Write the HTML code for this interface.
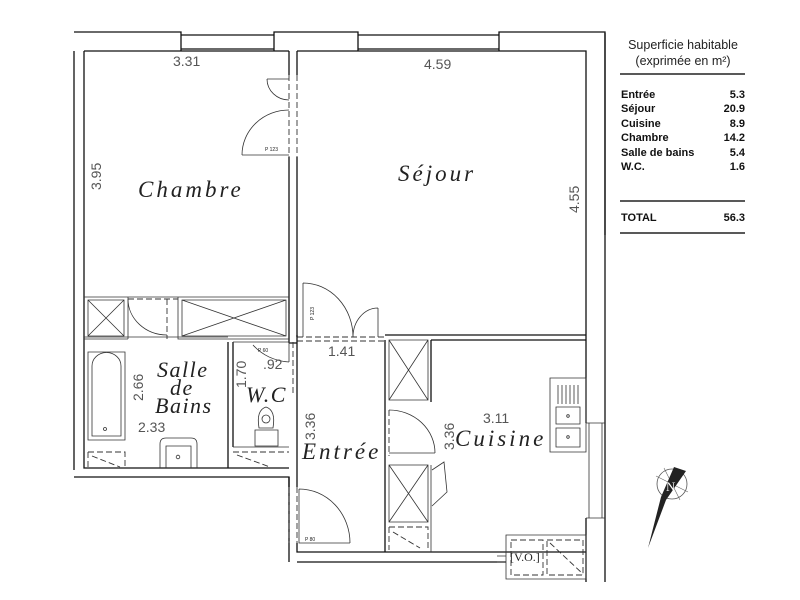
<!DOCTYPE html>
<html><head><meta charset="utf-8"><style>
html,body{margin:0;padding:0;background:#fff;}
svg{display:block;}
.w{fill:none;stroke:#111;stroke-width:1.3}
.t{fill:none;stroke:#333;stroke-width:0.8}
.d{fill:none;stroke:#333;stroke-width:0.9;stroke-dasharray:6 3}
.dim{font-family:"Liberation Sans",sans-serif;font-size:14px;fill:#555}
.room{font-family:"Liberation Serif",serif;font-style:italic;font-size:23px;fill:#222;letter-spacing:3px}
.room2{font-family:"Liberation Serif",serif;font-style:italic;font-size:22px;fill:#222;letter-spacing:1.5px}
.tb{font-family:"Liberation Sans",sans-serif;font-size:11px;font-weight:bold;fill:#111}
.th{font-family:"Liberation Sans",sans-serif;font-size:12.5px;fill:#222}
.sm{font-family:"Liberation Sans",sans-serif;font-size:5px;fill:#222}
</style></head><body>
<svg width="800" height="600" viewBox="0 0 800 600" xmlns="http://www.w3.org/2000/svg">
<!-- top wall -->
<path class="w" d="M74 32 H181 V51 M181 35 H274 M181 49 H274 M274 51 V32 H358 V51 M358 35 H499 M358 49 H499 M499 51 V32 H605 V582"/>
<path class="w" d="M84 51 H289 M297 51 H586 V423 M586 518 V582"/>
<path class="t" d="M589 423 V518 M602 423 V518 M586 423 H605 M586 518 H605"/>
<!-- left walls -->
<path class="w" d="M74 51 V470 M84 51 V468 H228 V342 M233 342 V447 M228 468 H289"/>
<path class="w" d="M74 477 H289 V562"/>
<!-- chambre/sejour wall -->
<path class="w" d="M289 51 V75 M297 51 V75 M289 157 V343 M297 157 V337 M289 343 H297"/>
<path class="d" d="M289 75 V157 M297 75 V157"/>
<!-- chambre door -->
<path class="t" d="M242 155 H289 M242 155 A47 45 0 0 1 289 110 M267 79 H289 M267 79 A22 21 0 0 0 289 100"/>
<text class="sm" x="265" y="151">P 123</text>
<!-- closet row -->
<path class="t" d="M84 297 H289 M84 339 H128 M128 297 V339 M88 300 H124 V336 H88 Z M88 300 L124 336 M124 300 L88 336"/>
<path class="d" d="M128 299 H178 M167 299 V339"/>
<path class="t" d="M128 299 A39 36 0 0 0 167 335"/>
<path class="t" d="M178 297 V339 H289 M182 300 H286 V336 H182 Z M182 300 L286 336 M286 300 L182 336"/>
<!-- bath -->
<path class="t" d="M84 337 H228 M88 352 H125 V440 H88 Z"/>
<path class="t" d="M92 366 A14 13 0 0 1 121 366 V436 H92 Z"/>
<circle class="t" cx="105" cy="429" r="1.5"/>
<path class="d" d="M88 452 H125 V468 M88 452 V468 M92 456 L120 467"/>
<path class="t" d="M160 468 V444 Q160 438 166 438 H191 Q197 438 197 444 V468 M166 468 V446 H191 V468"/>
<circle class="t" cx="178" cy="457" r="1.8"/>
<!-- WC -->
<path class="t" d="M233 342 H289 M233 447 H289"/>
<path class="d" d="M233 452 H289 M237 455 L270 467"/>
<path class="t" d="M289 342 V362 M289 362 A50 45 0 0 1 253 345"/>
<path class="t" d="M255 430 H278 V446 H255 Z M259 428 Q256 410 266 407 Q276 410 273 428 Z"/>
<circle class="t" cx="266" cy="419" r="4"/>
<!-- entree -->
<path class="d" d="M297 337 H385 M297 341 H385 M293 342 V396"/>
<path class="w" d="M297 335 V487 M297 543 V552 H586 M289 487 V477 M297 562 H506 M385 340 V552"/>
<path class="d" d="M289 487 V543 M297 487 V543"/>
<path class="t" d="M299 489 V543 H350 M299 489 A51 54 0 0 1 350 543"/>
<text class="sm" x="305" y="541">P 80</text>
<!-- sejour door -->
<path class="t" d="M303 283 V337 M303 283 A50 54 0 0 1 353 337 M378 308 V337 M378 308 A25 29 0 0 0 353 337"/>
<text class="sm" transform="translate(314 320) rotate(-90)">P 123</text>
<!-- sejour bottom wall -->
<path class="w" d="M385 335 H586 M431 340 H586 M431 340 V402"/>
<path class="t" d="M389 340 H428 V400 H389 Z M389 340 L428 400 M428 340 L389 400"/>
<path class="d" d="M389 410 V456"/>
<path class="t" d="M389 410 A46 43 0 0 1 435 453 M389 453 H435"/>
<path class="t" d="M389 465 H428 V522 H389 Z M389 465 L428 522 M428 465 L389 522 M431 465 V552"/>
<path class="t" d="M432 470 L444 462 L447 492 L432 506"/>
<path class="d" d="M389 527 H428 V550 M389 527 V550 M393 532 L420 548"/>
<!-- sink -->
<path class="t" d="M550 378 H586 V452 H550 Z M556 407 H580 V424 H556 Z M556 428 H580 V447 H556 Z"/>
<path class="t" d="M558 385 V404 M562 385 V404 M566 385 V404 M570 385 V404 M574 385 V404 M578 385 V404"/>
<circle class="t" cx="568" cy="416" r="1.3"/><circle class="t" cx="568" cy="437" r="1.3"/>
<!-- VO -->
<path class="t" d="M506 535 H586 V579 H506 Z M506 556 H497 M506 562 H497"/>
<path class="d" d="M511 540 H543 V575 H511 Z M547 540 H583 V575 H547 Z M550 543 L583 574"/>
<text x="510" y="561" style="font-family:'Liberation Serif',serif;font-size:12px;fill:#222">[V.O.]</text>
<!-- labels -->
<text class="dim" x="173" y="66">3.31</text>
<text class="dim" x="424" y="69">4.59</text>
<text class="dim" transform="translate(101 190) rotate(-90)">3.95</text>
<text class="dim" transform="translate(579 213) rotate(-90)">4.55</text>
<text class="room" x="138" y="197">Chambre</text>
<text class="room" x="398" y="181">Séjour</text>
<text class="room2" x="157" y="377">Salle</text>
<text class="room2" x="170" y="395">de</text>
<text class="room2" x="155" y="413">Bains</text>
<text class="dim" transform="translate(143 401) rotate(-90)">2.66</text>
<text class="dim" x="138" y="432">2.33</text>
<text class="room2" x="246" y="402">W.C</text>
<text class="dim" transform="translate(246 388) rotate(-90)">1.70</text>
<text class="dim" x="263" y="369">.92</text>
<text class="sm" x="258" y="352">P 60</text>
<text class="dim" x="328" y="356">1.41</text>
<text class="dim" transform="translate(315 440) rotate(-90)">3.36</text>
<text class="room" x="302" y="459">Entrée</text>
<text class="dim" transform="translate(454 450) rotate(-90)">3.36</text>
<text class="dim" x="483" y="423">3.11</text>
<text class="room" x="455" y="446">Cuisine</text>
<!-- table -->
<path class="w" d="M605 33 V235"/>
<text class="th" x="683" y="49" text-anchor="middle">Superficie habitable</text>
<text class="th" x="683" y="65" text-anchor="middle">(exprimée en m²)</text>
<path d="M620 74 H745 M620 201 H745 M620 233 H745" stroke="#222" stroke-width="1.5"/>
<g class="tb">
<text x="621" y="98">Entrée</text><text x="745" y="98" text-anchor="end">5.3</text>
<text x="621" y="112">Séjour</text><text x="745" y="112" text-anchor="end">20.9</text>
<text x="621" y="127">Cuisine</text><text x="745" y="127" text-anchor="end">8.9</text>
<text x="621" y="141">Chambre</text><text x="745" y="141" text-anchor="end">14.2</text>
<text x="621" y="156">Salle de bains</text><text x="745" y="156" text-anchor="end">5.4</text>
<text x="621" y="170">W.C.</text><text x="745" y="170" text-anchor="end">1.6</text>
<text x="621" y="221">TOTAL</text><text x="745" y="221" text-anchor="end">56.3</text>
</g>
<!-- compass -->
<circle cx="672" cy="484" r="15" fill="none" stroke="#555" stroke-width="0.8"/>
<path d="M656 476 L688 492 M664 468 L680 500" stroke="#666" stroke-width="0.6"/>
<path d="M674 467 L686 471 L666 500 L648 548 L661 497 Z" fill="#222"/>
<text x="666" y="491" style="font-family:'Liberation Serif',serif;font-size:13px;fill:#fff">N</text>
</svg>
</body></html>
